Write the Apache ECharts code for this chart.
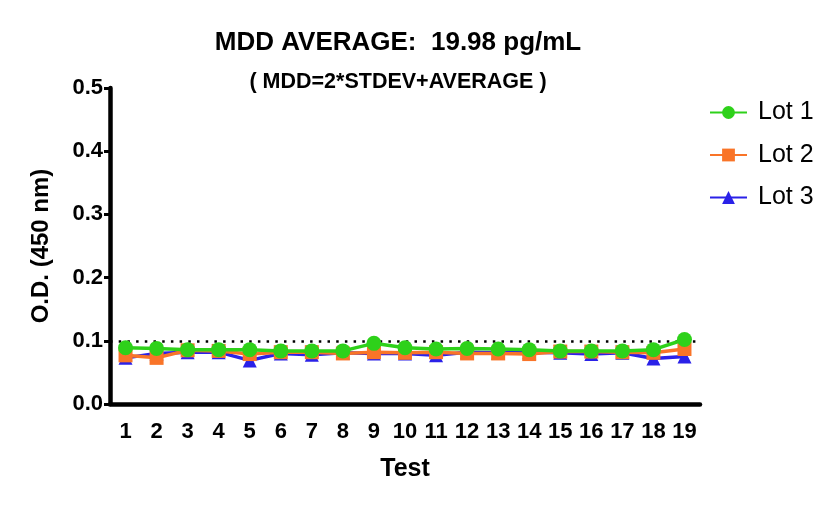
<!DOCTYPE html>
<html>
<head>
<meta charset="utf-8">
<script src="https://cdn.jsdelivr.net/npm/echarts@6/dist/echarts.min.js"></script>
<style>
  html, body { margin: 0; padding: 0; background: #fff; }
  #chart { width: 837px; height: 507px; }
</style>
</head>
<body>
<div id="chart"></div>
<script>
const tests = ['1','2','3','4','5','6','7','8','9','10','11','12','13','14','15','16','17','18','19'];
const lot1 = [0.089,0.088,0.086,0.086,0.086,0.084,0.084,0.084,0.096,0.089,0.087,0.088,0.087,0.086,0.084,0.084,0.084,0.086,0.102];
const lot2 = [0.077,0.073,0.085,0.084,0.079,0.082,0.082,0.080,0.082,0.081,0.082,0.080,0.080,0.079,0.083,0.083,0.082,0.081,0.087];
const lot3 = [0.073,0.080,0.082,0.082,0.069,0.080,0.078,0.081,0.080,0.080,0.077,0.082,0.081,0.082,0.081,0.079,0.081,0.072,0.075];
const cutoff = 0.1;

const font = "'Liberation Sans', Arial, sans-serif";
let myChart = echarts.init(document.getElementById('chart'));
var option = {
    backgroundColor: '#fff',
    animation: false,
    textStyle: { fontFamily: font, color: '#000' },
    title: [
        { text: 'MDD AVERAGE:  19.98 pg/mL', left: 393, top: 25, textAlign: 'center',
          textStyle: { fontSize: 26, fontWeight: 'bold', color: '#000', fontFamily: font } },
        { text: '( MDD=2*STDEV+AVERAGE )', left: 393, top: 66, textAlign: 'center',
          textStyle: { fontSize: 21.5, fontWeight: 'bold', color: '#000', fontFamily: font } }
    ],
    legend: {
        orient: 'vertical',
        left: 704,
        top: 95,
        itemWidth: 37,
        itemHeight: 16,
        itemGap: 17.5,
        textStyle: { fontSize: 25, color: '#000', fontFamily: font, padding: [0, 0, 0, 6] },
        data: ['Lot 1', 'Lot 2', 'Lot 3']
    },
    grid: { left: 110, right: 137, top: 88, bottom: 103 },
    xAxis: {
        type: 'category',
        data: tests,
        boundaryGap: true,
        name: 'Test',
        nameLocation: 'middle',
        nameGap: 53,
        nameTextStyle: { fontSize: 25, fontWeight: 'bold', color: '#000', fontFamily: font },
        axisLine: { lineStyle: { color: '#000', width: 4.5 } },
        axisTick: { alignWithLabel: true, length: 7, lineStyle: { color: '#000', width: 3 } },
        axisLabel: { fontSize: 22, fontWeight: 'bold', color: '#000', margin: 17, interval: 0 },
        splitLine: { show: false }
    },
    yAxis: {
        type: 'value',
        min: 0,
        max: 0.5,
        interval: 0.1,
        name: 'O.D. (450 nm)',
        nameLocation: 'middle',
        nameGap: 57,
        nameTextStyle: { fontSize: 24, fontWeight: 'bold', color: '#000', fontFamily: font },
        axisLine: { show: true, lineStyle: { color: '#000', width: 4.5 } },
        axisTick: { show: true, length: 6, lineStyle: { color: '#000', width: 3 } },
        axisLabel: { fontSize: 22, fontWeight: 'bold', color: '#000', margin: 7,
                     formatter: v => v.toFixed(1) },
        splitLine: { show: false }
    },
    series: [
        {
            name: 'Lot 1', type: 'line', data: lot1, z: 5,
            color: '#2ed11a',
            symbol: 'circle', symbolSize: 15,
            lineStyle: { width: 3.5 },
            markLine: {
                silent: true, symbol: 'none', label: { show: false },
                lineStyle: { color: '#000', type: [2.5, 6.2], width: 2.5 },
                data: [{ yAxis: cutoff }]
            }
        },
        {
            name: 'Lot 2', type: 'line', data: lot2, z: 4,
            color: '#f97428',
            symbol: 'rect', symbolSize: 14,
            lineStyle: { width: 3.5 }
        },
        {
            name: 'Lot 3', type: 'line', data: lot3, z: 3,
            color: '#2a21e8',
            symbol: 'triangle', symbolSize: 14,
            lineStyle: { width: 3.5 }
        }
    ]
};
myChart.setOption(option);
window.addEventListener('resize', function () {
    myChart.resize();
});
</script>
</body>
</html>
